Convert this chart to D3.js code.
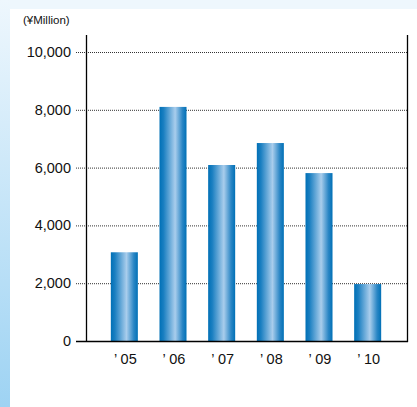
<!DOCTYPE html>
<html>
<head>
<meta charset="utf-8">
<script src="https://cdn.jsdelivr.net/npm/d3@7"></script>
<style>
  html, body { margin: 0; padding: 0; background: #fff; }
  svg { display: block; font-family: Helvetica, Arial, "Liberation Sans", sans-serif; }
</style>
</head>
<body>
<svg id="chart"></svg>
<script>
const years = ["’05", "’06", "’07", "’08", "’09", "’10"];
const values = [3070, 8100, 6090, 6850, 5810, 1970];
const yTicks = [0, 2000, 4000, 6000, 8000, 10000];
const unitLabel = "(¥Million)";

const width = 417, height = 407;
const svg = d3.select("#chart").attr("width", width).attr("height", height);

const defs = svg.append("defs");
// left frame gradient (light at top, deeper blue at bottom)
const side = defs.append("linearGradient").attr("id", "side")
  .attr("x1", 0).attr("y1", 0).attr("x2", 0).attr("y2", 1);
side.append("stop").attr("offset", "0%").attr("stop-color", "#eef7fd");
side.append("stop").attr("offset", "100%").attr("stop-color", "#9ed3f3");

// bar gradient, horizontal
const bar = defs.append("linearGradient").attr("id", "bar")
  .attr("x1", 0).attr("y1", 0).attr("x2", 1).attr("y2", 0);
[["0%", "#0070b6"], ["15%", "#1a7fc1"], ["58%", "#a9cdec"], ["85%", "#2a86c5"], ["100%", "#0070b6"]]
  .forEach(([o, c]) => bar.append("stop").attr("offset", o).attr("stop-color", c));

// frame
svg.append("rect").attr("x", 0).attr("y", 0).attr("width", width).attr("height", 9).attr("fill", "#eef7fd");
svg.append("rect").attr("x", 0).attr("y", 0).attr("width", 10).attr("height", height).attr("fill", "url(#side)");

const x0 = 86, x1 = 407, yTop = 35;
const y = d3.scaleLinear().domain([0, 10000]).range([341, 52]);
const x = d3.scaleBand().domain(years).range([100, 392]).paddingInner(0.445).paddingOuter(0.2225);

// gridlines + ticks
const grid = svg.append("g");
yTicks.forEach(t => {
  if (t === 0) return;
  grid.append("line")
    .attr("x1", 76).attr("x2", x1).attr("y1", y(t) + 0.5).attr("y2", y(t) + 0.5)
    .attr("stroke", "#333").attr("stroke-width", 1).attr("stroke-dasharray", "1,1");
});

// bars
svg.append("g").selectAll("rect").data(values).join("rect")
  .attr("x", (d, i) => x(years[i]))
  .attr("y", d => y(d))
  .attr("width", x.bandwidth())
  .attr("height", d => y(0) - y(d))
  .attr("fill", "url(#bar)");

// axes lines
svg.append("line").attr("x1", x0 + 0.5).attr("x2", x0 + 0.5).attr("y1", yTop).attr("y2", y(0) + 1)
  .attr("stroke", "#000").attr("stroke-width", 1.3);
svg.append("line").attr("x1", x1 + 0.5).attr("x2", x1 + 0.5).attr("y1", yTop).attr("y2", y(0) + 1)
  .attr("stroke", "#000").attr("stroke-width", 1.3);
svg.append("line").attr("x1", 76).attr("x2", x1 + 1).attr("y1", y(0) + 0.5).attr("y2", y(0) + 0.5)
  .attr("stroke", "#000").attr("stroke-width", 1.3);

// y tick labels
svg.append("g").selectAll("text").data(yTicks).join("text")
  .attr("x", 71).attr("y", d => y(d) + 5)
  .attr("text-anchor", "end")
  .attr("font-size", 14.5).attr("fill", "#111")
  .text(d => d3.format(",")(d));

// x labels
svg.append("g").selectAll("text").data(years).join("text")
  .attr("x", d => x(d) + x.bandwidth() / 2 + 1)
  .attr("y", 364)
  .attr("text-anchor", "middle")
  .attr("font-size", 14.5).attr("fill", "#111")
  .attr("xml:space", "preserve")
  .text(d => d.replace("’", "’ "));

svg.append("text").attr("x", 23).attr("y", 24)
  .attr("font-size", 11.5).attr("fill", "#111").text(unitLabel);
</script>
</body>
</html>
